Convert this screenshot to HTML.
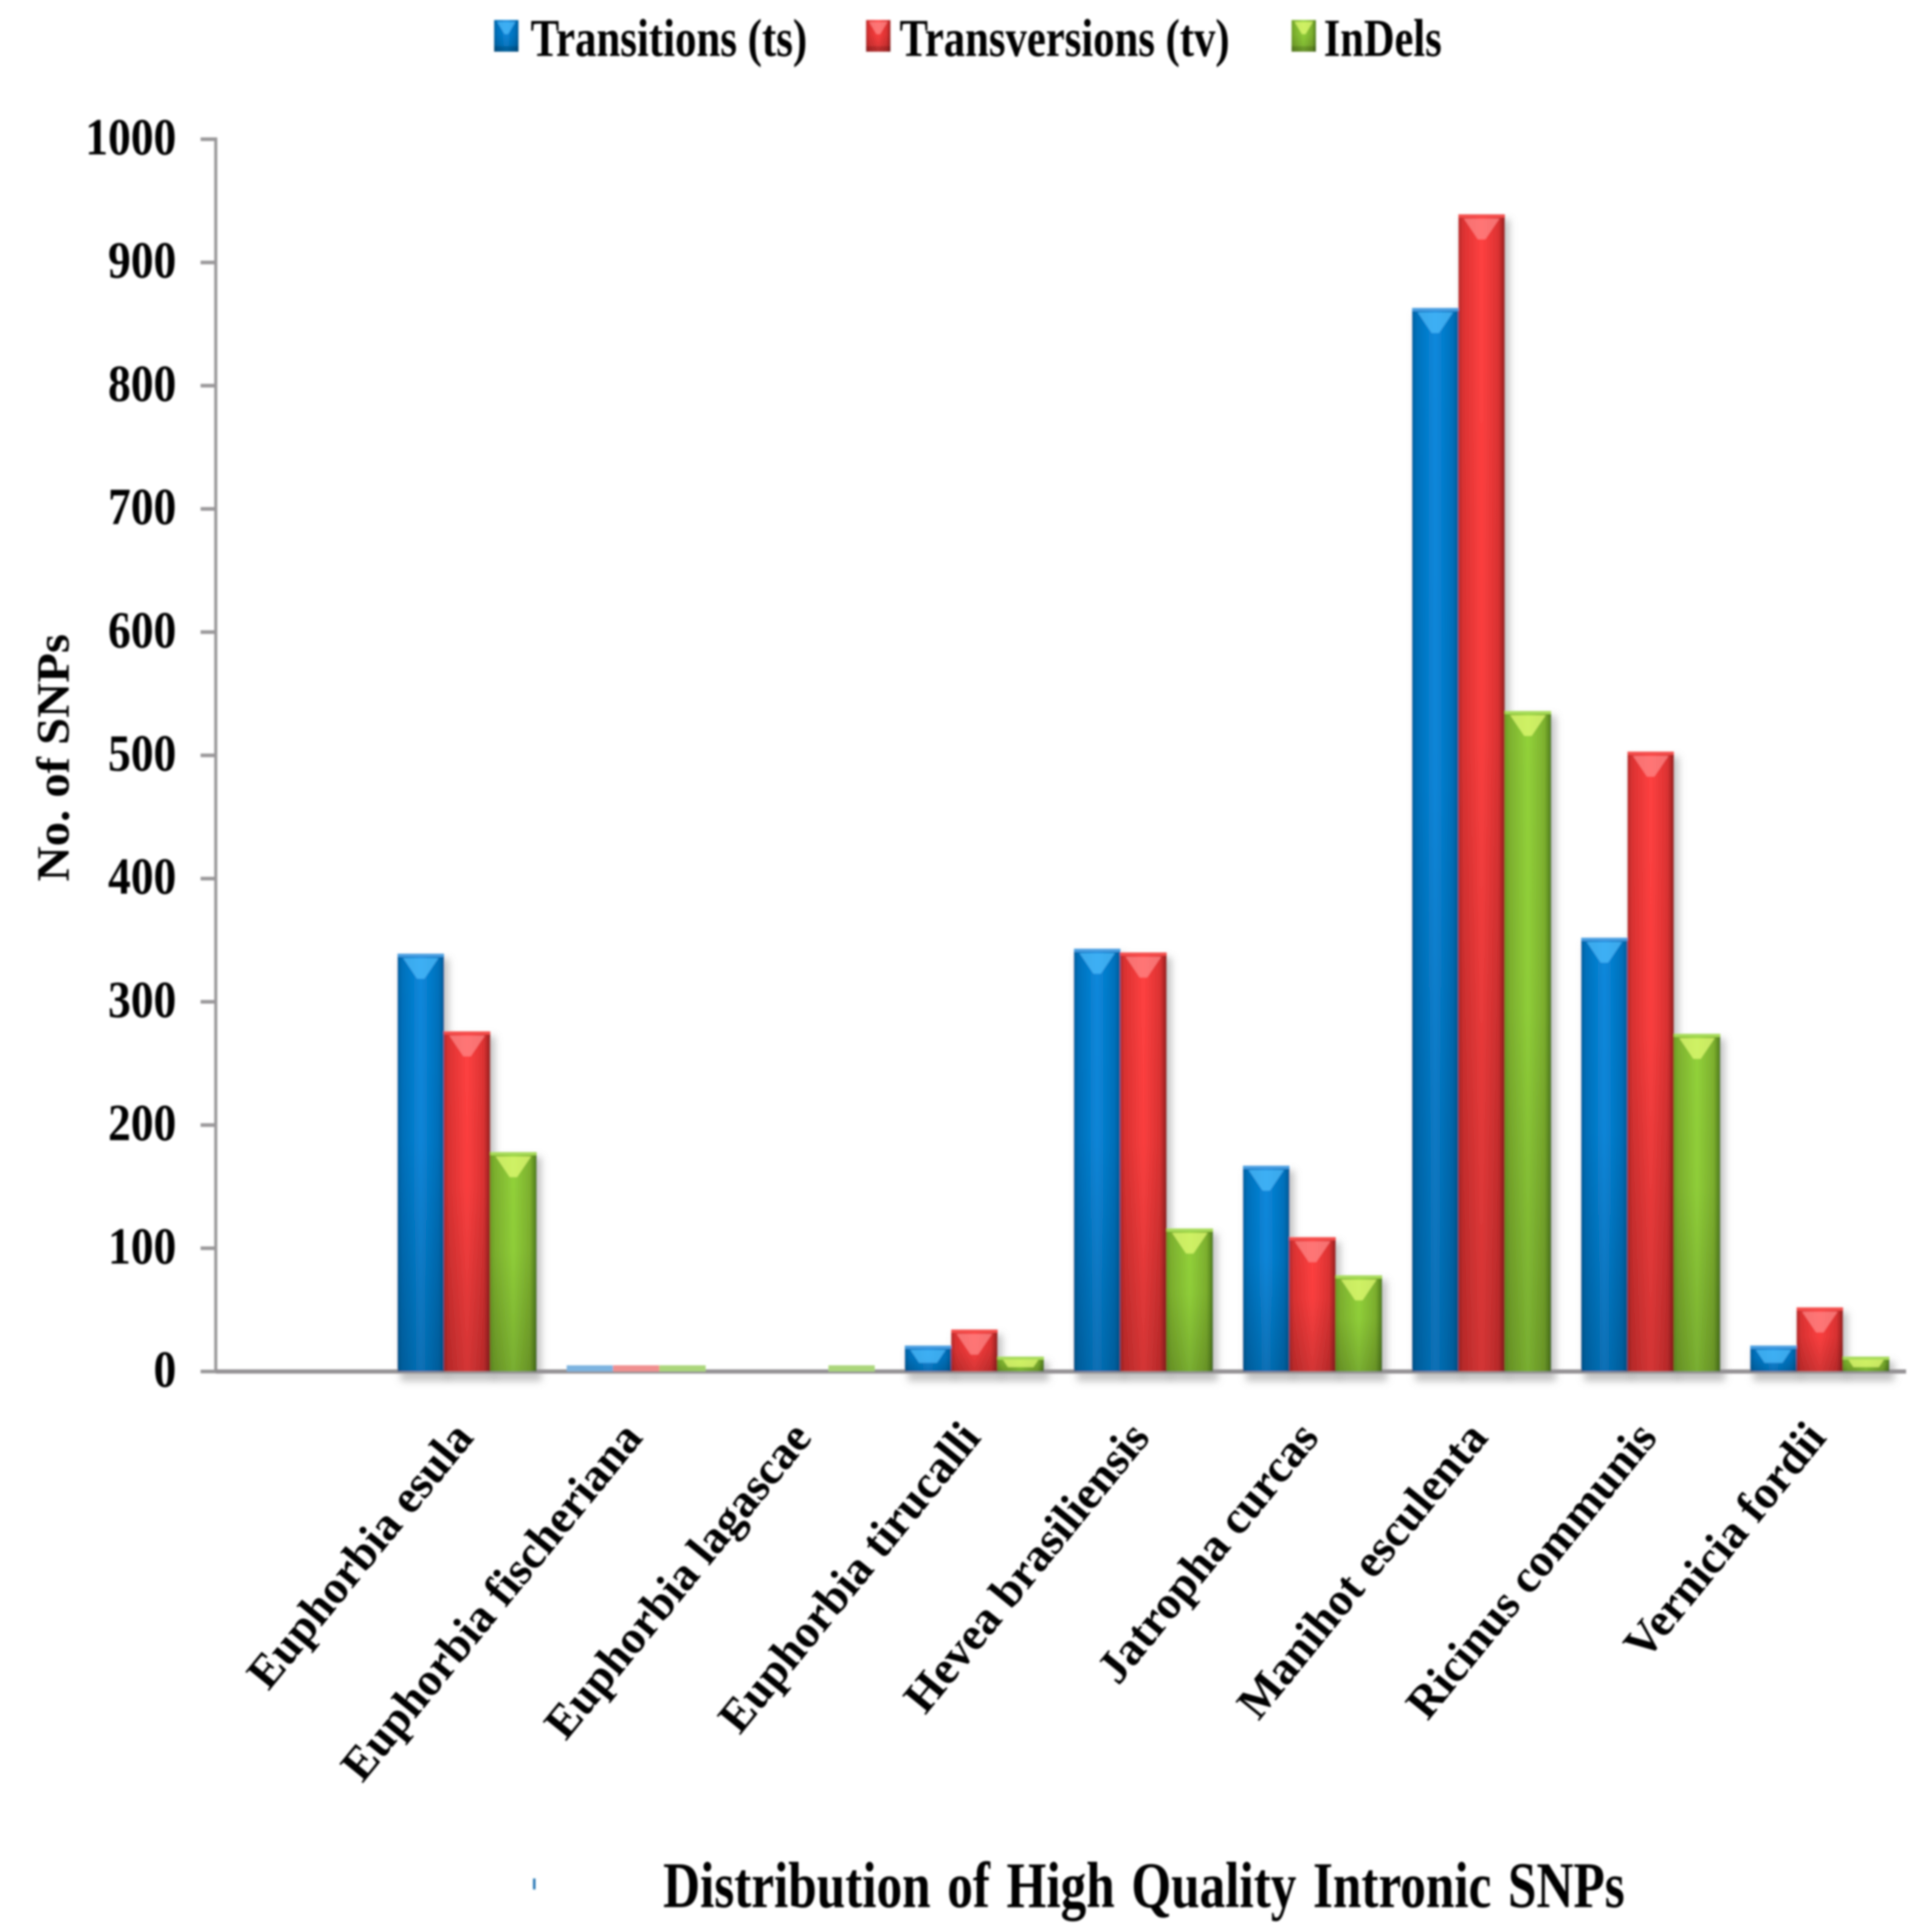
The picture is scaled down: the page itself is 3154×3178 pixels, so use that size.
<!DOCTYPE html>
<html lang="en">
<head>
<meta charset="utf-8">
<title>Distribution of High Quality Intronic SNPs</title>
<style>
html,body{margin:0;padding:0;background:#fff;width:3154px;height:3178px;overflow:hidden}
svg{display:block}
text{font-family:"Liberation Serif",serif;font-weight:bold;fill:#000}
</style>
</head>
<body>
<svg id="chart" xmlns="http://www.w3.org/2000/svg" width="3154" height="3178" viewBox="0 0 3154 3178">
<defs>
<filter id="soft" x="-2%" y="-2%" width="104%" height="104%"><feGaussianBlur stdDeviation="1.6"/></filter>
<filter id="shadowBlur" x="-30%" y="-30%" width="160%" height="160%"><feGaussianBlur stdDeviation="6"/></filter>
<linearGradient id="grad-0" x1="0" x2="1" y1="0" y2="0"><stop offset="0" stop-color="#00609f"/><stop offset=".1" stop-color="#0070bb"/><stop offset=".5" stop-color="#0a88dc"/><stop offset=".88" stop-color="#0070bb"/><stop offset="1" stop-color="#005a96"/></linearGradient>
<linearGradient id="grad-1" x1="0" x2="1" y1="0" y2="0"><stop offset="0" stop-color="#b52a2a"/><stop offset=".1" stop-color="#dc3232"/><stop offset=".5" stop-color="#ff4040"/><stop offset=".86" stop-color="#dc3232"/><stop offset="1" stop-color="#942020"/></linearGradient>
<linearGradient id="grad-2" x1="0" x2="1" y1="0" y2="0"><stop offset="0" stop-color="#6a9e26"/><stop offset=".1" stop-color="#7db02e"/><stop offset=".5" stop-color="#92d23a"/><stop offset=".86" stop-color="#7db02e"/><stop offset="1" stop-color="#4d7a1c"/></linearGradient>
<linearGradient id="depth" x1="0" x2="0" y1="0" y2="1"><stop offset="0" stop-color="#000" stop-opacity="0"/><stop offset=".45" stop-color="#000" stop-opacity=".02"/><stop offset="1" stop-color="#000" stop-opacity=".17"/></linearGradient>
</defs>
<g id="root" filter="url(#soft)"></g>
</svg>
<script>
const categories = ["Euphorbia esula", "Euphorbia fischeriana", "Euphorbia lagascae", "Euphorbia tirucalli", "Hevea brasiliensis", "Jatropha curcas", "Manihot esculenta", "Ricinus communis", "Vernicia fordii"];
const transitions = [339, 5, 0, 21, 343, 167, 863, 352, 21];
const transversions = [276, 5, 0, 34, 340, 109, 939, 503, 52];
const indels = [178, 5, 5, 12, 116, 78, 536, 274, 12];
const yTicks = [0, 100, 200, 300, 400, 500, 600, 700, 800, 900, 1000];
const seriesNames = ["Transitions (ts)", "Transversions (tv)", "InDels"];

const NS = "http://www.w3.org/2000/svg";
const root = document.getElementById("root");
const series = [transitions, transversions, indels];
const seriesKeys = ["transitions", "transversions", "indels"];
const rimColors = ["#4a9fe2", "#f4504e", "#a8dc5a"];
const glossColors = ["#52c0ff", "#ff8c8c", "#e8ff78"];
const paleColors = ["#7db4e0", "#f08f8f", "#aad67a"];

const plot = { left: 355, baseline: 2256, top: 229, step: 278.2, barW: 76.2, pad: 21, blankSlots: 1 };
function yScale(v) { return plot.baseline - (v / 1000) * (plot.baseline - plot.top); }
function xBar(catIdx, serIdx) { return plot.left + (catIdx + plot.blankSlots) * plot.step + plot.pad + serIdx * plot.barW; }
function xCenter(catIdx) { return xBar(catIdx, 0) + 1.5 * plot.barW; }

function mk(tag, attrs, parent) {
  const el = document.createElementNS(NS, tag);
  for (const k in attrs) el.setAttribute(k, attrs[k]);
  (parent || root).appendChild(el);
  return el;
}

// drop shadows
const shadowLayer = mk("g", { filter: "url(#shadowBlur)" });


series.forEach(function (vals, s) {
  vals.forEach(function (v, c) {
    if (v <= 0 || v < 8) return;
    const x = xBar(c, s), y = yScale(v);
    const sh = mk("rect", { x: x + 5, y: y + 8, width: plot.barW + 3, height: plot.baseline - y + 8, fill: "#8a8a8a", opacity: 0.5 }, shadowLayer);
    
    
  });
});

// y axis line + ticks
const yAxis = mk("line", { x1: plot.left, x2: plot.left, y1: plot.top - 3, y2: plot.baseline, stroke: "#9a989a", "stroke-width": 5 });


yTicks.forEach(function (t) {
  const y = yScale(t);
  const tick = mk("line", { x1: 330, x2: plot.left, y1: y, y2: y, stroke: "#9a989a", "stroke-width": 6 });
  
  
  const lab = mk("text", { transform: "translate(290," + (y + 25) + ") scale(.87,1)", "text-anchor": "end", "font-size": 86 });
  lab.textContent = String(t);
  
  
});

// x axis line
const xAxis = mk("line", { x1: plot.left, x2: 3136, y1: plot.baseline, y2: plot.baseline, stroke: "#949294", "stroke-width": 7 });



// bars
series.forEach(function (vals, s) {
  vals.forEach(function (v, c) {
    if (v <= 0) return;
    const x = xBar(c, s), y = yScale(v), h = plot.baseline - y, w = plot.barW;
    const g = mk("g", {});
    
    
    if (h < 12) {
      mk("rect", { x: x, y: y, width: w, height: h, fill: paleColors[s] }, g);
      return;
    }
    mk("rect", { x: x, y: y, width: w, height: h, fill: "url(#grad-" + s + ")" }, g);
    mk("rect", { x: x, y: y, width: w, height: h, fill: "url(#depth)" }, g);
    mk("rect", { x: x, y: y, width: w, height: Math.min(5, h * 0.2), fill: rimColors[s] }, g);
    const hh = Math.min(34, h * 0.5), top = y + Math.min(7, h * 0.2), ins = 9, nar = 32 * (hh / 34);
    const pts = [[x + ins, top], [x + w - ins, top], [x + w - ins - nar * 0.72, top + hh], [x + ins + nar * 0.72, top + hh]];
    mk("polygon", { points: pts.map(function (p) { return p.join(","); }).join(" "), fill: glossColors[s], opacity: 0.7 }, g);
  });
});

// category labels
categories.forEach(function (name, c) {
  const lab = mk("text", { transform: "translate(" + (xCenter(c) + 13) + ",2366) rotate(-50.8)", "text-anchor": "end", "font-size": 76.5 });
  lab.textContent = name;
  
  
});

// legend
const legendSwatchX = [813, 1425, 2125];
const legendTextX = [873, 1480, 2178];
const legendTextW = [455, 543, 194];
seriesNames.forEach(function (name, s) {
  const sw = mk("g", {});
  
  
  const sx = legendSwatchX[s];
  mk("rect", { x: sx, y: 33, width: 40, height: 52, fill: "url(#grad-" + s + ")" }, sw);
  mk("rect", { x: sx, y: 33, width: 40, height: 52, fill: "url(#depth)" }, sw);
  mk("rect", { x: sx, y: 76, width: 40, height: 9, fill: "#000", opacity: 0.14 }, sw);
  mk("polygon", { points: (sx + 5) + ",36 " + (sx + 35) + ",36 " + (sx + 23) + ",56 " + (sx + 17) + ",56", fill: glossColors[s], opacity: 0.7 }, sw);
  const t = mk("text", { x: legendTextX[s], y: 92, "font-size": 88, textLength: legendTextW[s], lengthAdjust: "spacingAndGlyphs" });
  t.textContent = name;
  
  
});

// axis titles
const yTitle = mk("text", { transform: "translate(113,1450) rotate(-90)", "font-size": 76, textLength: 407, lengthAdjust: "spacingAndGlyphs" });
yTitle.textContent = "No. of SNPs";



const xTitle = mk("text", { x: 1091, y: 3137, "font-size": 107, textLength: 1582, lengthAdjust: "spacingAndGlyphs", "word-spacing": 8 });
xTitle.textContent = "Distribution of High Quality Intronic SNPs";



const speck = mk("rect", { x: 877, y: 3090, width: 4, height: 18, fill: "#1a6fb0" });


</script>
</body>
</html>
